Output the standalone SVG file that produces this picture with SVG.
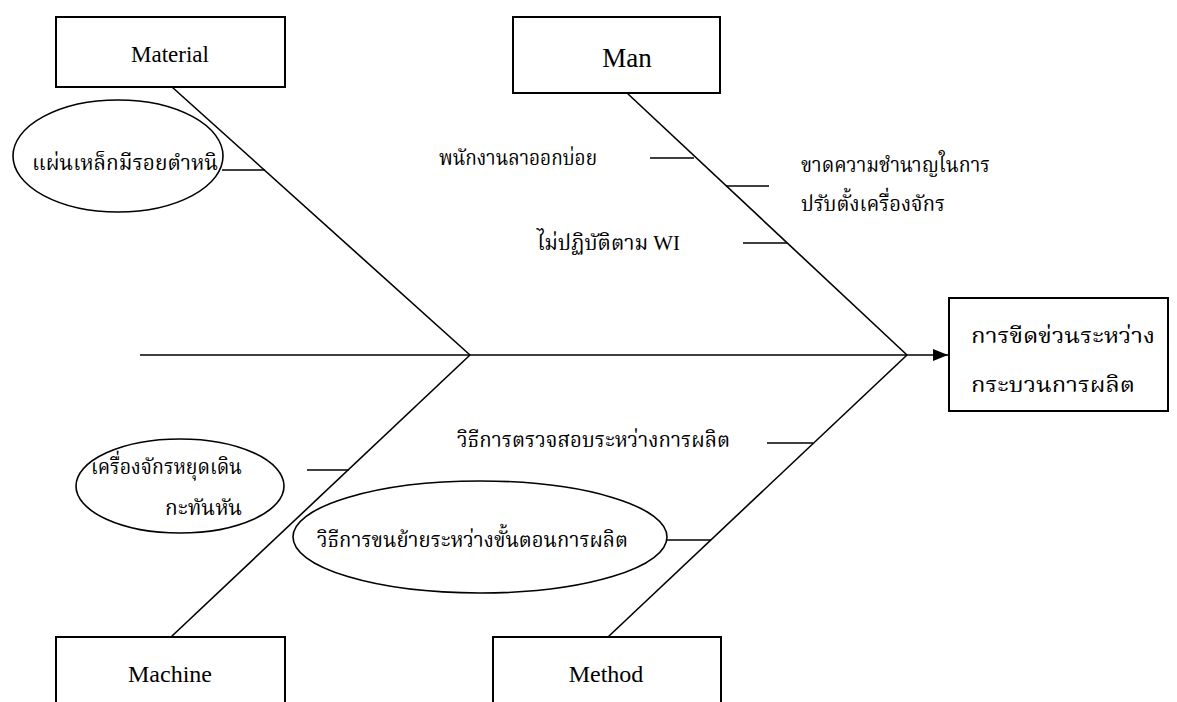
<svg xmlns="http://www.w3.org/2000/svg" width="1177" height="702" viewBox="0 0 1177 702">
<defs>
<style>
.box{fill:#fff;stroke:#000;stroke-width:2}
.ell{fill:#fff;stroke:#000;stroke-width:1.6}
.ln{stroke:#000;stroke-width:1.6;fill:none}
.en{font-family:"Liberation Serif","Times New Roman",serif;fill:#000;text-anchor:middle}
.th{font-family:"Liberation Serif","Noto Serif Thai","Noto Sans Thai","DejaVu Serif",serif;font-size:22px;fill:#000}
</style>
<marker id="arr" markerWidth="16" markerHeight="12" refX="15" refY="6" orient="auto" markerUnits="userSpaceOnUse">
<path d="M0,0 L15,6 L0,12 Z" fill="#000"/>
</marker>
</defs>
<rect width="1177" height="702" fill="#fff"/>
<g id="connectors">
<line class="ln" x1="140" y1="355" x2="948" y2="355" marker-end="url(#arr)"/>
<line class="ln" x1="172" y1="87" x2="470" y2="355"/>
<line class="ln" x1="627" y1="93" x2="907" y2="355"/>
<line class="ln" x1="171" y1="637" x2="470" y2="355"/>
<line class="ln" x1="608" y1="637" x2="907" y2="355"/>
<line class="ln" x1="222" y1="170" x2="265" y2="170"/>
<line class="ln" x1="650" y1="158" x2="694" y2="158"/>
<line class="ln" x1="726" y1="186" x2="769" y2="186"/>
<line class="ln" x1="743" y1="243" x2="787" y2="243"/>
<line class="ln" x1="307" y1="470" x2="349" y2="470"/>
<line class="ln" x1="767" y1="443" x2="813" y2="443"/>
<line class="ln" x1="667" y1="540" x2="711" y2="540"/>
</g>
<g id="material">
<rect class="box" x="56" y="17" width="229" height="70"/>
<text class="en" x="170" y="62" font-size="23">Material</text>
</g>
<g id="man">
<rect class="box" x="513" y="17" width="207" height="76"/>
<text class="en" x="627" y="67" font-size="27">Man</text>
</g>
<g id="machine">
<rect class="box" x="56" y="637" width="229" height="70"/>
<text class="en" x="170" y="682" font-size="24">Machine</text>
</g>
<g id="method">
<rect class="box" x="493" y="637" width="228" height="70"/>
<text class="en" x="606" y="682" font-size="24">Method</text>
</g>
<g id="effect">
<rect class="box" x="949" y="298" width="219" height="113"/>
<text class="th" x="971" y="343" font-size="26" textLength="184" lengthAdjust="spacingAndGlyphs">การขีดข่วนระหว่าง</text>
<text class="th" x="971" y="392" font-size="26" textLength="164" lengthAdjust="spacingAndGlyphs">กระบวนการผลิต</text>
</g>
<g id="cause-material-1">
<ellipse class="ell" cx="118" cy="156" rx="105" ry="56"/>
<text class="th" x="32" y="170" textLength="186" lengthAdjust="spacingAndGlyphs">แผ่นเหล็กมีรอยตำหนิ</text>
</g>
<g id="cause-man-1">
<text class="th" x="439" y="165" textLength="158" lengthAdjust="spacingAndGlyphs">พนักงานลาออกบ่อย</text>
</g>
<g id="cause-man-2">
<text class="th" x="801" y="172" textLength="189" lengthAdjust="spacingAndGlyphs">ขาดความชำนาญในการ</text>
<text class="th" x="801" y="211" textLength="144" lengthAdjust="spacingAndGlyphs">ปรับตั้งเครื่องจักร</text>
</g>
<g id="cause-man-3">
<text class="th" x="537" y="250" textLength="143" lengthAdjust="spacingAndGlyphs">ไม่ปฏิบัติตาม WI</text>
</g>
<g id="cause-machine-1">
<ellipse class="ell" cx="180" cy="486" rx="104" ry="47"/>
<text class="th" x="91" y="474" textLength="151" lengthAdjust="spacingAndGlyphs">เครื่องจักรหยุดเดิน</text>
<text class="th" x="165" y="515" textLength="77" lengthAdjust="spacingAndGlyphs">กะทันหัน</text>
</g>
<g id="cause-method-1">
<text class="th" x="457" y="447" textLength="273" lengthAdjust="spacingAndGlyphs">วิธีการตรวจสอบระหว่างการผลิต</text>
</g>
<g id="cause-method-2">
<ellipse class="ell" cx="480" cy="537" rx="187" ry="56"/>
<text class="th" x="317" y="547" textLength="311" lengthAdjust="spacingAndGlyphs">วิธีการขนย้ายระหว่างขั้นตอนการผลิต</text>
</g>
</svg>
